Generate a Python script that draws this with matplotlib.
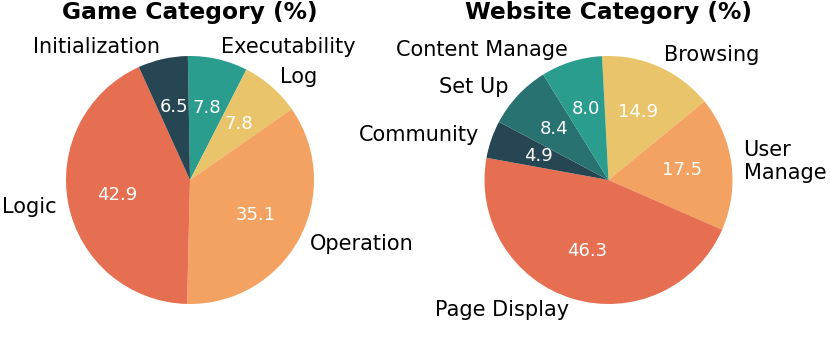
import matplotlib.pyplot as plt

# data
game_labels = ["Executability", "Log", "Operation", "Logic", "Initialization"]
game_values = [7.8, 7.8, 35.1, 42.9, 6.5]
game_colors = ["#2a9d8f", "#e9c46a", "#f4a261", "#e76f51", "#264653"]

web_labels = ["Browsing", "User\nManage", "Page Display", "Community", "Set Up", "Content Manage"]
web_values = [14.9, 17.5, 46.3, 4.9, 8.4, 8.0]
web_colors = ["#e9c46a", "#f4a261", "#e76f51", "#264653", "#287271", "#2a9d8f"]

fig = plt.figure(figsize=(8.3, 3.38), dpi=100)

W, H = 830, 338
R = 124
lim = 1.25
size = 2 * lim * R


def draw(cx, cy, labels, values, colors, title, start):
    ax = fig.add_axes([(cx - size / 2) / W, (H - cy - size / 2) / H, size / W, size / H])
    vals = iter(values)
    wedges, texts, autotexts = ax.pie(values, labels=labels, colors=colors,
                                      startangle=start, counterclock=False,
                                      autopct=lambda p: "%.1f" % next(vals),
                                      pctdistance=0.6, labeldistance=1.1,
                                      textprops={"fontsize": 15})
    for t in autotexts:
        t.set_color("white")
        t.set_fontsize(13)
    ax.set_xlim(-lim, lim)
    ax.set_ylim(-lim, lim)
    ax.set_aspect("equal")
    fig.text(cx / W, 1 - 12 / H, title, ha="center", va="center",
             fontsize=16.8, fontweight="bold")


draw(190, 180, game_labels, game_values, game_colors, "Game Category (%)", 91)
draw(608.5, 180, web_labels, web_values, web_colors, "Website Category (%)", 93)

fig.savefig("out.png", dpi=100)
